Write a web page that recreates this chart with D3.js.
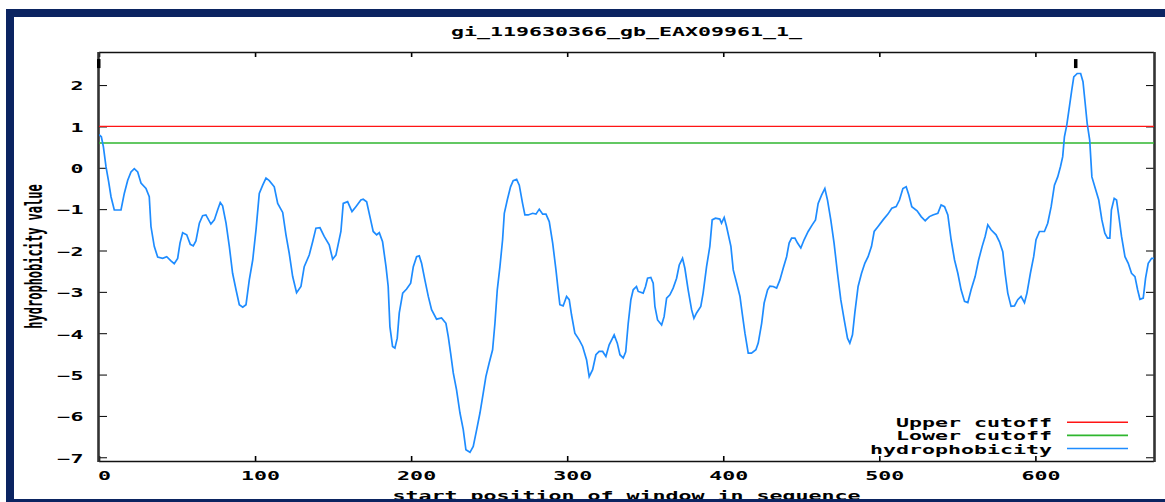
<!DOCTYPE html>
<html>
<head>
<meta charset="utf-8">
<script src="https://cdn.jsdelivr.net/npm/d3@7"></script>
<style>
  html, body { margin: 0; padding: 0; background: #ffffff; }
  svg { display: block; }
  text { font-family: "DejaVu Sans Mono", "Liberation Mono", monospace; font-weight: bold; fill: #000; }
</style>
</head>
<body>
<svg id="chart" width="1165" height="502"></svg>
<script>
// ---- data ----
const title = "gi_119630366_gb_EAX09961_1_";
const xLabel = "start position of window in sequence";
const yLabel = "hydrophobicity value";
const xTicks = [0, 100, 200, 300, 400, 500, 600];
const yTicks = [-7, -6, -5, -4, -3, -2, -1, 0, 1, 2];
const upperCutoff = 1.0;
const lowerCutoff = 0.6;
const peakMarks = [0, 626];
const peakMarkLevel = 2.52;
const legendLabels = ["Upper cutoff", "Lower cutoff", "hydrophobicity"];

const windowStart = [
  0, 1.5, 2.8, 4.5, 6.2, 7.7, 9.8, 14.1, 16.2, 18.4, 20.5, 22.6, 24.8, 26.9, 30.1, 32.2,
  33.3, 35.4, 37.6, 40.8, 43.4, 46.1, 48.2, 50.4, 51.9, 53.6, 56.2, 58.5, 60.4, 62.1, 64.3,
  66.4, 68.5, 71.7, 73.9, 76.0, 77.7, 79.2, 81.4, 83.5, 85.6, 87.8, 89.9, 92.1, 94.2, 96.3,
  98.5, 100.6, 102.7, 104.9, 107.0, 109.1, 112.3, 114.5, 117.7, 119.8, 121.9, 124.1, 126.6,
  129.4, 131.5, 134.7, 136.9, 139.0, 141.6, 144.3, 147.5, 149.7, 151.8, 155.0, 156.5, 159.3,
  162.1, 164.6, 167.8, 169.3, 171.5, 173.6, 175.7, 177.9, 179.6, 181.7, 183.9, 185.3, 186.4,
  188.1, 189.6, 191.1, 192.4, 194.6, 197.1, 199.7, 201.4, 203.5, 205.2, 206.7, 208.8, 211.0,
  213.1, 216.3, 219.5, 222.3, 223.8, 225.3, 227.0, 229.1, 231.3, 233.4, 235.1, 237.7, 239.8,
  242.0, 244.1, 246.2, 247.9, 250.0, 252.2, 253.7, 255.2, 256.9, 258.6, 259.7, 261.6, 263.7,
  265.4, 267.6, 269.3, 271.4, 272.9, 275.0, 277.9, 280.0, 282.1, 284.3, 286.4, 288.5, 290.7,
  292.8, 294.2, 295.3, 297.4, 299.6, 301.3, 302.8, 304.9, 307.7, 309.9, 312.4, 314.1, 316.3,
  318.4, 320.5, 322.7, 324.8, 326.9, 330.1, 332.1, 333.8, 335.9, 337.5, 339.1, 340.8, 342.3,
  344.4, 345.5, 348.7, 350.2, 351.5, 353.6, 355.1, 356.2, 357.9, 360.5, 362.1, 363.7, 365.8,
  367.9, 370.1, 371.8, 373.9, 375.4, 377.5, 379.7, 381.2, 382.9, 385.6, 387.1, 389.3, 391.4,
  392.9, 395.0, 397.8, 398.9, 400.6, 402.1, 404.9, 406.4, 408.6, 410.7, 412.1, 413.9, 416.0,
  418.1, 420.9, 422.4, 424.6, 426.2, 428.4, 429.9, 432.0, 434.2, 436.3, 438.4, 440.6, 442.2,
  443.8, 445.9, 447.6, 449.7, 451.8, 454.4, 457.0, 459.1, 460.8, 463.0, 465.1, 466.8, 468.9,
  471.0, 473.2, 475.3, 477.5, 479.6, 481.1, 482.8, 484.3, 486.4, 488.6, 490.7, 492.8, 495.0,
  496.7, 499.2, 502.4, 505.5, 508.0, 510.8, 512.9, 515.1, 517.2, 518.9, 520.8, 524.2, 526.8,
  529.4, 532.1, 534.3, 537.5, 539.6, 541.8, 543.9, 546.0, 548.2, 550.3, 552.4, 554.6, 556.7,
  558.8, 561.4, 563.6, 565.9, 567.8, 569.5, 571.6, 574.8, 577.0, 579.1, 580.6, 582.3, 584.4,
  586.6, 588.7, 590.8, 593.0, 594.6, 596.8, 598.9, 600.4, 602.6, 605.8, 607.9, 610.1, 612.2,
  614.3, 616.1, 617.5, 618.6, 620.1, 621.8, 623.3, 624.6, 626.8, 629.0, 630.5, 631.9, 633.2,
  634.8, 636.2, 638.4, 640.6, 642.6, 644.5, 646.2, 647.7, 648.7, 650.5, 652.0, 653.5, 655.2,
  657.4, 659.5, 661.6, 663.8, 665.5, 667.0, 669.1, 670.6, 672.3, 674.5, 676.0
];

const hydrophobicity = [
  0.80, 0.75, 0.51, 0.02, -0.34, -0.70, -1.02, -1.02, -0.62, -0.30, -0.10, -0.02, -0.10, -0.37, -0.50, -0.70,
  -1.42, -1.90, -2.16, -2.19, -2.15, -2.25, -2.32, -2.19, -1.82, -1.57, -1.62, -1.85, -1.89, -1.77, -1.34,
  -1.16, -1.14, -1.36, -1.26, -1.02, -0.84, -0.92, -1.34, -1.90, -2.55, -2.95, -3.31, -3.37, -3.31, -2.71,
  -2.23, -1.50, -0.62, -0.42, -0.25, -0.31, -0.46, -0.86, -1.08, -1.62, -2.07, -2.63, -3.02,
  -2.87, -2.39, -2.11, -1.79, -1.46, -1.45, -1.66, -1.86, -2.21, -2.11, -1.54, -0.86, -0.82,
  -1.06, -0.94, -0.78, -0.76, -0.82, -1.18, -1.54, -1.62, -1.57, -1.79, -2.39, -2.87, -3.84,
  -4.32, -4.36, -4.12, -3.51, -3.03, -2.93, -2.79, -2.39, -2.15, -2.13, -2.31, -2.71, -3.11,
  -3.43, -3.66, -3.63, -3.76, -4.08, -4.48, -4.96, -5.37, -5.93, -6.33, -6.82, -6.88, -6.74,
  -6.33, -5.93, -5.45, -5.05, -4.72, -4.40, -3.76, -2.95, -2.39, -1.74, -1.10, -0.78, -0.46,
  -0.31, -0.28, -0.42, -0.86, -1.14, -1.14, -1.10, -1.12, -1.00, -1.12, -1.12, -1.30, -1.82,
  -2.47, -2.95, -3.31, -3.34, -3.11, -3.19, -3.56, -4.00, -4.16, -4.32, -4.64, -5.05, -4.88,
  -4.52, -4.44, -4.44, -4.56, -4.28, -4.04, -4.24, -4.52, -4.60, -4.45, -3.76, -3.19, -2.95,
  -2.87, -2.99, -3.03, -2.87, -2.67, -2.65, -2.79, -3.35, -3.68, -3.80, -3.60, -3.15, -3.07,
  -2.91, -2.67, -2.35, -2.19, -2.43, -2.95, -3.43, -3.64, -3.51, -3.35, -3.03, -2.39, -1.90,
  -1.26, -1.22, -1.24, -1.34, -1.20, -1.42, -1.90, -2.47, -2.79, -3.11, -3.51, -4.00, -4.48,
  -4.48, -4.40, -4.24, -3.76, -3.27, -2.95, -2.86, -2.87, -2.91, -2.71, -2.43, -2.15, -1.82,
  -1.70, -1.70, -1.82, -1.94, -1.74, -1.54, -1.38, -1.26, -0.86, -0.66, -0.50, -0.78, -1.26,
  -1.82, -2.55, -3.19, -3.68, -4.12, -4.24, -4.04, -3.51, -2.87, -2.55, -2.31, -2.15, -1.90,
  -1.54, -1.42, -1.26, -1.12, -0.98, -0.94, -0.78, -0.50, -0.46, -0.66, -0.94, -1.04, -1.18,
  -1.28, -1.18, -1.14, -1.10, -0.90, -0.94, -1.14, -1.74, -2.23, -2.55, -2.95, -3.23, -3.26,
  -2.95, -2.63, -2.23, -1.90, -1.66, -1.38, -1.50, -1.62, -1.79, -2.03, -2.55, -3.03, -3.35,
  -3.34, -3.19, -3.11, -3.26, -3.03, -2.55, -2.15, -1.74, -1.54, -1.54, -1.34, -0.94, -0.42,
  -0.22, 0.03, 0.27, 0.75, 1.03, 1.48, 1.88, 2.20, 2.28, 2.28, 2.08, 1.56, 1.07,
  0.67, -0.22, -0.50, -0.78, -1.26, -1.58, -1.70, -1.70, -1.02, -0.74, -0.78, -1.18, -1.66,
  -2.15, -2.31, -2.55, -2.63, -2.95, -3.18, -3.15, -2.67, -2.31, -2.19, -2.19
];

// ---- layout ----
const W = 1165, H = 502;
const plot = { left: 99, right: 1154, top: 52, bottom: 461 };
const SX = 1.88;             // horizontal stretch of the bitmap-style font
const FONT_SIZE = 11.5;
const colors = { upper: "#ff1414", lower: "#2fb62f", hydro: "#1e8cff", frame: "#0b2461" };

const svg = d3.select("#chart");
svg.append("rect").attr("width", W).attr("height", H).attr("fill", "#fff");

const x = d3.scaleLinear().domain([0, 676]).range([plot.left, plot.right]);
const y = d3.scaleLinear().domain([-7.09, 2.8]).range([plot.bottom, plot.top]);

function stretched(sel, str, tx, ty, anchor) {
  return sel.append("text")
    .attr("transform", `translate(${tx},${ty}) scale(${SX},1)`)
    .attr("text-anchor", anchor)
    .style("font-size", FONT_SIZE + "px")
    .text(str);
}

// ---- axes ----
function styleAxis(g) {
  g.select(".domain").remove();
  g.selectAll(".tick line").attr("stroke", "#000");
}

const gx = svg.append("g").attr("transform", `translate(0,${plot.bottom})`)
  .call(d3.axisBottom(x).tickValues(xTicks).tickSizeInner(-5).tickSizeOuter(0))
  .call(styleAxis);
gx.selectAll(".tick line").attr("stroke-width", 1.6);
gx.selectAll(".tick text")
  .attr("x", null).attr("y", null).attr("dy", null)
  .attr("transform", `translate(5,18.5) scale(${SX},1)`)
  .attr("text-anchor", "middle").attr("fill", "#000")
  .style("font-size", FONT_SIZE + "px")
  .style("font-family", "DejaVu Sans Mono").style("font-weight", "bold");

svg.append("g").attr("transform", `translate(0,${plot.top})`)
  .call(d3.axisTop(x).tickValues(xTicks).tickSizeInner(-5).tickSizeOuter(0).tickFormat(""))
  .call(styleAxis)
  .selectAll(".tick line").attr("stroke-width", 1.6);

const gy = svg.append("g").attr("transform", `translate(${plot.left},0)`)
  .call(d3.axisLeft(y).tickValues(yTicks).tickSizeInner(-8).tickSizeOuter(0)
    .tickFormat(d => (d < 0 ? "\u2212" + Math.abs(d) : String(d))))
  .call(styleAxis);
gy.selectAll(".tick text")
  .attr("x", null).attr("dy", null)
  .attr("transform", `translate(-15.5,4.8) scale(${SX},1)`)
  .attr("text-anchor", "end").attr("fill", "#000")
  .style("font-size", FONT_SIZE + "px")
  .style("font-family", "DejaVu Sans Mono").style("font-weight", "bold");

svg.append("g").attr("transform", `translate(${plot.right},0)`)
  .call(d3.axisRight(y).tickValues(yTicks).tickSizeInner(-8).tickSizeOuter(0).tickFormat(""))
  .call(styleAxis);

// ---- plot border ----
const border = svg.append("g");
border.append("line").attr("x1", plot.left).attr("x2", plot.right)
  .attr("y1", plot.top + 0.5).attr("y2", plot.top + 0.5).attr("stroke", "#111").attr("stroke-width", 1.4);
border.append("line").attr("x1", plot.left).attr("x2", plot.right)
  .attr("y1", plot.bottom + 0.5).attr("y2", plot.bottom + 0.5).attr("stroke", "#111").attr("stroke-width", 1.4);
border.append("line").attr("x1", plot.left - 0.5).attr("x2", plot.left - 0.5)
  .attr("y1", plot.top).attr("y2", plot.bottom + 1).attr("stroke", "#333").attr("stroke-width", 2.6);
border.append("line").attr("x1", plot.right + 0.5).attr("x2", plot.right + 0.5)
  .attr("y1", plot.top).attr("y2", plot.bottom + 1).attr("stroke", "#333").attr("stroke-width", 2.6);

// ---- series ----
svg.append("clipPath").attr("id", "plotClip").append("rect")
  .attr("x", plot.left).attr("y", plot.top)
  .attr("width", plot.right - plot.left).attr("height", plot.bottom - plot.top);

const series = svg.append("g").attr("clip-path", "url(#plotClip)");

series.append("line")
  .attr("x1", x(0)).attr("x2", x(676))
  .attr("y1", y(upperCutoff)).attr("y2", y(upperCutoff))
  .attr("stroke", colors.upper).attr("stroke-width", 1.3);
series.append("line")
  .attr("x1", x(0)).attr("x2", x(676))
  .attr("y1", y(lowerCutoff)).attr("y2", y(lowerCutoff))
  .attr("stroke", colors.lower).attr("stroke-width", 1.3);

const points = windowStart.map((p, i) => [p, hydrophobicity[i]]);
series.append("path")
  .datum(points)
  .attr("fill", "none")
  .attr("stroke", colors.hydro)
  .attr("stroke-width", 1.7)
  .attr("stroke-linejoin", "miter")
  .attr("d", d3.line().x(d => x(d[0])).y(d => y(d[1])));

// peak markers above the profile
svg.append("g").selectAll("rect")
  .data(peakMarks)
  .join("rect")
  .attr("x", d => x(d) - 2)
  .attr("y", y(peakMarkLevel) - 4.5)
  .attr("width", 3.5)
  .attr("height", 9)
  .attr("fill", "#000");

// ---- titles ----
stretched(svg, title, (plot.left + plot.right) / 2, 36, "middle");
stretched(svg, xLabel, (plot.left + plot.right) / 2, 500, "middle");
svg.append("text")
  .attr("transform", `translate(42,${(plot.top + plot.bottom) / 2}) rotate(-90) scale(1,${SX})`)
  .attr("text-anchor", "middle")
  .style("font-size", "12px")
  .text(yLabel);

// ---- legend ----
const legendColors = [colors.upper, colors.lower, colors.hydro];
const legend = svg.append("g");
legendLabels.forEach((lab, i) => {
  const base = 427.3 + i * 13.1;
  stretched(legend, lab, 1052, base, "end");
  legend.append("line")
    .attr("x1", 1067).attr("x2", 1128)
    .attr("y1", base - 5).attr("y2", base - 5)
    .attr("stroke", legendColors[i]).attr("stroke-width", 1.6);
});

// ---- outer frame ----
const frame = svg.append("g").attr("fill", colors.frame);
frame.append("rect").attr("x", 6).attr("y", 9).attr("width", W - 6).attr("height", 8);
frame.append("rect").attr("x", 6).attr("y", 9).attr("width", 8).attr("height", H - 9);
frame.append("rect").attr("x", 6).attr("y", 499).attr("width", W - 6).attr("height", 3);
</script>
</body>
</html>
